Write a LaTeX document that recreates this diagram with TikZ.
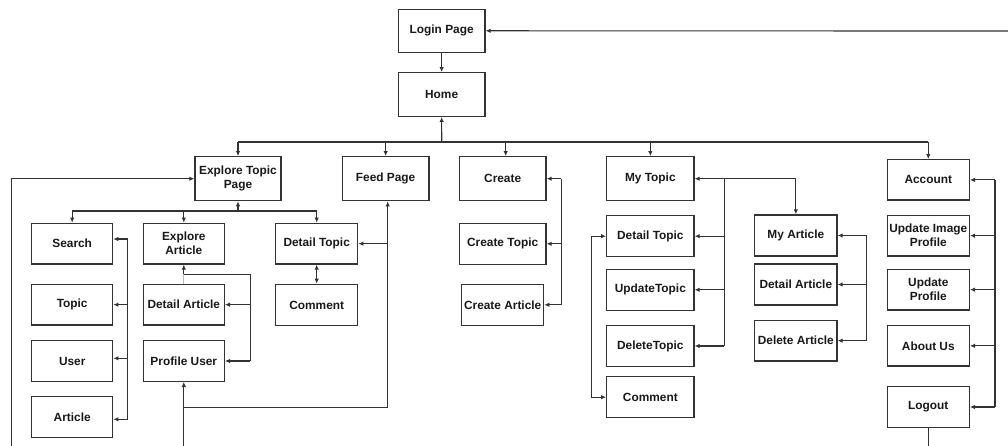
\documentclass[tikz,border=0pt]{standalone}
\usepackage{fontspec}
\setmainfont{Liberation Sans}
\usetikzlibrary{arrows.meta}
\definecolor{edge}{HTML}{333333}
\definecolor{faint}{HTML}{BBBBBB}

% box from its corners: name, x1, y1, x2, y2, text (units are pixels, y down)
\newcommand\bx[6]{%
  \pgfmathsetmacro\bxcx{(#2+#4)/2}\pgfmathsetmacro\bxcy{(#3+#5)/2}%
  \pgfmathsetmacro\bxw{(#4-#2)*0.75}\pgfmathsetmacro\bxh{(#5-#3)*0.75}%
  \node[box, minimum width=\bxw pt, minimum height=\bxh pt] (#1) at (\bxcx,\bxcy) {#6};}

\tikzset{
  box/.style={draw=edge, line width=0.95pt, fill=white, rectangle, inner sep=0pt,
    align=center, font=\fontsize{8.9}{10.5}\selectfont\bfseries, text=black!90},
  ln/.style={draw=edge, line width=0.85pt},
  arr/.style={ln, -{Latex[length=3.8pt,width=3.4pt]}},
  dbl/.style={ln, {Latex[length=3.8pt,width=3.4pt]}-{Latex[length=3.8pt,width=3.4pt]}}
}

\begin{document}
\begin{tikzpicture}[x=0.75pt, y=-0.75pt]
\useasboundingbox (0,0) rectangle (1008,446);

% top level
\bx{login}{398.3}{9.3}{485}{52.3}{Login Page}
\bx{home}{398.3}{72.7}{485}{116.3}{Home}
\bx{etp}{195}{156.7}{281}{200.7}{Explore Topic\\Page}
\bx{feed}{342.3}{156.7}{429}{200.7}{Feed Page}
\bx{create}{459.3}{156.7}{546}{200.7}{Create}
\bx{mytopic}{606.7}{156.7}{694}{200.7}{My Topic}
\bx{acct}{887.3}{159.7}{969.3}{200}{Account}

% explore branch
\bx{search}{31.7}{223.3}{112.7}{264}{Search}
\bx{topic}{31.7}{284.3}{112.7}{325}{Topic}
\bx{user}{31.7}{340.7}{112.7}{381.3}{User}
\bx{article}{31.7}{396.7}{112.7}{437.7}{Article}
\bx{earticle}{143.3}{223.3}{224.3}{264}{Explore\\Article}
\bx{darticle}{143.3}{284.3}{224.3}{325}{Detail Article}
\bx{puser}{143.3}{340.7}{224.3}{381.3}{Profile User}
\bx{dtopic}{275.7}{223.3}{357.7}{264}{Detail Topic}
\bx{comment}{275.7}{284.3}{357.7}{325.7}{Comment}

% create branch
\bx{ctopic}{459.3}{223.3}{546}{264.3}{Create Topic}
\bx{carticle}{461.7}{284.3}{543.7}{325.3}{Create Article}

% my topic branch
\bx{dtopicb}{606.7}{215.7}{694}{256.7}{Detail Topic}
\bx{utopic}{606.7}{269.3}{694}{310.3}{UpdateTopic}
\bx{deltopic}{606.7}{325.7}{694}{366.3}{DeleteTopic}
\bx{commentb}{606.7}{376.7}{694}{417.7}{Comment}
\bx{myarticle}{754.7}{215}{837}{256}{My Article}
\bx{darticleb}{754.7}{264}{837}{305}{Detail Article}
\bx{delarticle}{754.7}{320.3}{837}{361}{Delete Article}

% account branch
\bx{uip}{887.3}{215.3}{969.3}{256}{Update Image\\Profile}
\bx{uprof}{887.3}{269.3}{969.3}{310}{Update\\Profile}
\bx{about}{887.3}{325.7}{969.3}{366}{About Us}
\bx{logout}{887.3}{386.7}{969.3}{427.3}{Logout}

% helper coordinates
\coordinate (rin) at (1008,31);
\coordinate (bus) at (0,142);
\coordinate (homeup) at (441.7,142);
\coordinate (creatdn) at (505.7,142);
\coordinate (lb) at (11.7,446);
\coordinate (sub) at (0,211);
\coordinate (sx) at (127.7,0);
\coordinate (eaj) at (183.8,274.3);
\coordinate (eak) at (250.3,274.3);
\coordinate (fx) at (387.7,407.3);
\coordinate (pb) at (183.8,446);
\coordinate (cx) at (561.3,0);
\coordinate (mtx) at (724.3,0);
\coordinate (lbx) at (591.7,0);
\coordinate (max) at (866.7,0);
\coordinate (acx) at (995,0);
\coordinate (lo) at (928.3,446);

% login and home
\draw[arr] (rin) -- (login.east);
\draw[arr] (login.south) -- (home.north);
\draw[ln] (etp.north |- bus) -- (acct.north |- bus);
\draw[arr] (homeup) -- (home.south);
\draw[arr] (etp.north |- bus) -- (etp.north);
\draw[arr] (feed.north |- bus) -- (feed.north);
\draw[arr] (creatdn) -- (creatdn |- create.north);
\draw[arr] (mytopic.north |- bus) -- (mytopic.north);
\draw[arr] (acct.north |- bus) -- (acct.north);

% explore topic page
\draw[arr] (lb) |- (etp.west);
\draw[ln] (search.north |- sub) -- (dtopic.north |- sub);
\draw[arr] (etp.south |- sub) -- (etp.south);
\draw[arr] (search.north |- sub) -- (search.north);
\draw[arr] (earticle.north |- sub) -- (earticle.north);
\draw[arr] (dtopic.north |- sub) -- (dtopic.north);

% search bracket
\draw[ln] (sx |- 0,239) -- (sx |- 0,419.3);
\draw[arr] (sx |- 0,239) -- (search.east |- 0,239);
\draw[arr] (sx |- topic.east) -- (topic.east);
\draw[arr] (sx |- 0,358.3) -- (user.east |- 0,358.3);
\draw[arr] (sx |- 0,419.3) -- (article.east |- 0,419.3);

% explore article bracket
\draw[faint, line width=0.8pt] (eaj) -- (darticle.north);
\draw[ln] (eaj) -- (eak) -- (eak |- puser.east);
\draw[arr] (eaj) -- (earticle.south);
\draw[arr] (eak |- darticle.east) -- (darticle.east);
\draw[arr] (eak |- puser.east) -- (puser.east);

% detail topic and comment
\draw[dbl] (dtopic.south) -- (comment.north);

% feed page links
\draw[ln] (fx) -- (pb |- fx);
\draw[arr] (fx) -- (fx |- feed.south);
\draw[arr] (fx |- dtopic.east) -- (dtopic.east);
\draw[arr] (pb) -- (puser.south);

% create bracket
\draw[ln] (cx |- create.east) -- (cx |- carticle.east);
\draw[arr] (cx |- create.east) -- (create.east);
\draw[arr] (cx |- ctopic.east) -- (ctopic.east);
\draw[arr] (cx |- carticle.east) -- (carticle.east);

% my topic bracket
\draw[ln] (mtx |- mytopic.east) -- (mtx |- deltopic.east);
\draw[arr] (mtx |- mytopic.east) -- (mytopic.east);
\draw[arr] (mtx |- mytopic.east) -| (myarticle.north);
\draw[arr] (mtx |- dtopicb.east) -- (dtopicb.east);
\draw[arr] (mtx |- utopic.east) -- (utopic.east);
\draw[arr] (mtx |- deltopic.east) -- (deltopic.east);
\draw[dbl] (dtopicb.west) -- (lbx |- dtopicb.west) -- (lbx |- commentb.west) -- (commentb.west);

% my article bracket
\draw[ln] (max |- myarticle.east) -- (max |- delarticle.east);
\draw[arr] (max |- myarticle.east) -- (myarticle.east);
\draw[arr] (max |- darticleb.east) -- (darticleb.east);
\draw[arr] (max |- delarticle.east) -- (delarticle.east);

% account bracket
\draw[ln] (acx |- acct.east) -- (acx |- logout.east);
\draw[arr] (acx |- acct.east) -- (acct.east);
\draw[arr] (acx |- uip.east) -- (uip.east);
\draw[arr] (acx |- uprof.east) -- (uprof.east);
\draw[arr] (acx |- about.east) -- (about.east);
\draw[arr] (acx |- logout.east) -- (logout.east);
\draw[ln] (logout.south) -- (lo);
\end{tikzpicture}
\end{document}
